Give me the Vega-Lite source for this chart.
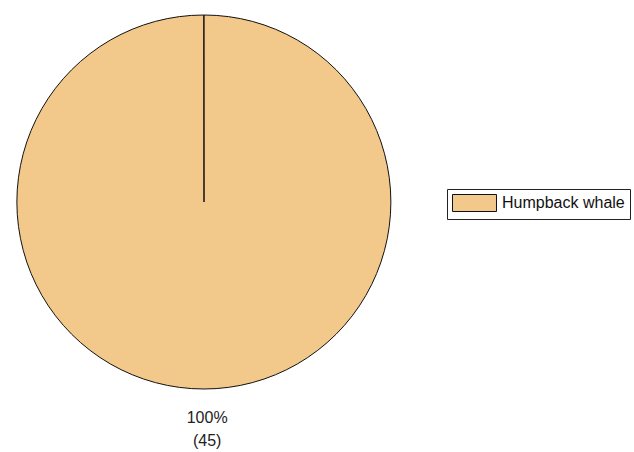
{
  "$schema": "https://vega.github.io/schema/vega-lite/v6.json",
  "width": 408,
  "height": 404,
  "padding": 0,
  "autosize": {"type": "pad"},
  "background": "white",
  "config": {"view": {"stroke": null}, "font": "Liberation Sans"},
  "data": {"values": [
    {"species": "Humpback whale", "count": 45, "label": "100%\n(45)"}
  ]},
  "encoding": {
    "theta": {"field": "count", "type": "quantitative", "stack": true, "scale": {"domain": [0, 45.01]}}
  },
  "layer": [
    {
      "mark": {"type": "arc", "outerRadius": 187, "stroke": "#111111", "strokeWidth": 1},
      "encoding": {
        "color": {
          "field": "species", "type": "nominal",
          "scale": {"range": ["#F2C98A"]},
          "legend": {
            "title": null,
            "orient": "none",
            "legendX": 447,
            "legendY": 189,
            "strokeColor": "#222222",
            "fillColor": "white",
            "padding": 5,
            "symbolType": "M-1,-1H4.176V1H-1Z",
            "symbolSize": 289,
            "symbolStrokeColor": "#111111",
            "symbolStrokeWidth": 1,
            "symbolOpacity": 1,
            "labelFont": "Liberation Sans",
            "labelFontSize": 16,
            "labelColor": "#111111",
            "labelOffset": 32
          }
        }
      }
    },
    {
      "mark": {"type": "text", "radius": 221, "fontSize": 16, "font": "Liberation Sans", "color": "#222222", "lineBreak": "\n", "lineHeight": 23, "baseline": "alphabetic", "align": "center", "dx": 3},
      "encoding": {"text": {"field": "label"}}
    }
  ]
}
